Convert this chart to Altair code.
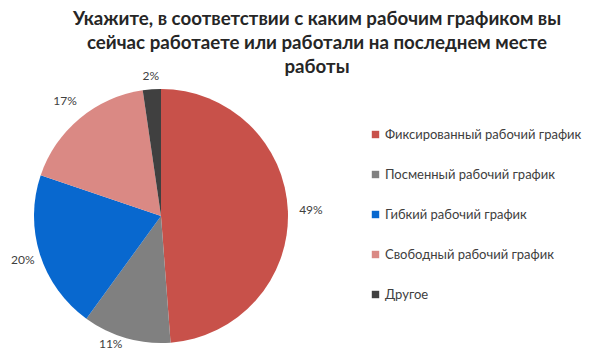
import altair as alt
import pandas as pd

categories = ["Фиксированный рабочий график", "Посменный рабочий график",
              "Гибкий рабочий график", "Свободный рабочий график", "Другое"]
values = [48.8, 11.2, 20.2, 17.5, 2.3]
labels = ["49%", "11%", "20%", "17%", "2%"]
colors = ["#C8514A", "#808080", "#0868CF", "#DA8984", "#404040"]
title_lines = ["Укажите, в соответствии с каким рабочим графиком вы",
               "сейчас работаете или работали на последнем месте",
               "работы"]

df = pd.DataFrame({"cat": categories, "val": values, "lab": labels,
                   "ord": list(range(len(categories)))})

color = alt.Color("cat:N", scale=alt.Scale(domain=categories, range=colors),
                  legend=alt.Legend(title=None, orient="none", legendX=361, legendY=20,
                                    symbolType="square", symbolSize=55, symbolStrokeWidth=0,
                                    labelFontSize=13, labelFont="Lato", labelColor="#404040",
                                    rowPadding=26, labelLimit=300, labelOffset=3))

base = alt.Chart(df).encode(
    theta=alt.Theta("val:Q", stack=True),
    order=alt.Order("ord:Q"),
)

pie = base.mark_arc(outerRadius=127).encode(color=color)


def label_layer(show, radius, dx=0):
    return base.mark_text(radius=radius, dx=dx, fontSize=12, font="Lato",
                          color="#404040").encode(
        text="lab:N",
        opacity=alt.condition(show, alt.value(1), alt.value(0)),
    )


t1 = label_layer("datum.ord == 0 || datum.ord == 3", 150)
t2 = label_layer("datum.ord == 2", 145)
t3 = label_layer("datum.ord == 4", 140)
t4 = label_layer("datum.ord == 1", 133, dx=-14)

chart = (pie + t1 + t2 + t3 + t4).properties(
    width=306, height=216,
    padding={"left": 0, "top": 100, "right": 278, "bottom": 26},
    autosize=alt.AutoSizeParams(type="none"),
    title=alt.TitleParams(title_lines, anchor="middle", dx=156, offset=-16,
                          fontSize=18.7, font="Lato", fontWeight="bold", color="#262626",
                          lineHeight=24),
).configure_view(stroke=None)

chart.save("out.html", embed_options={"renderer": "svg", "actions": False})
